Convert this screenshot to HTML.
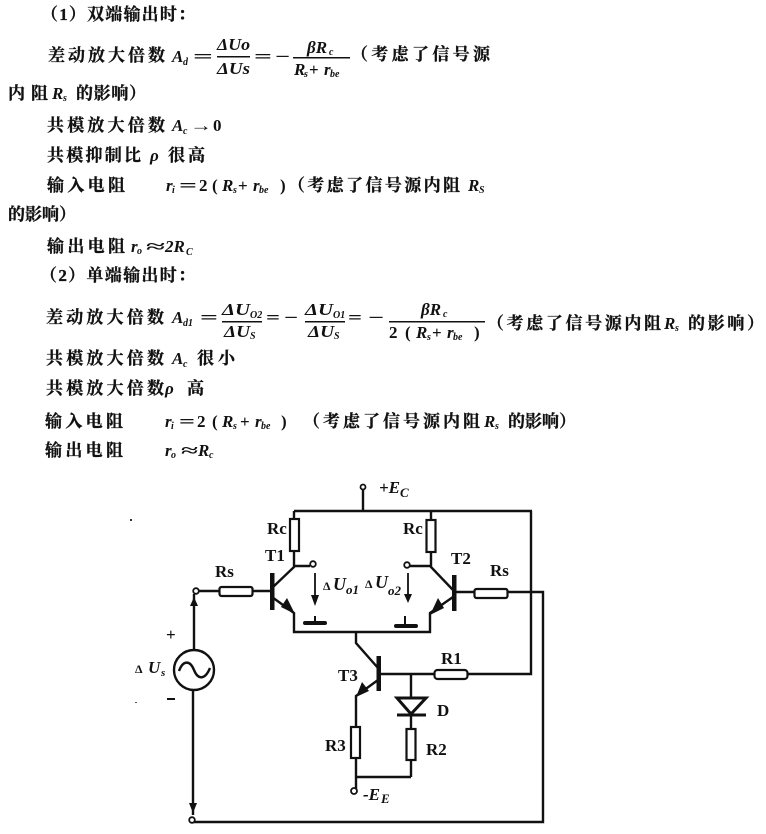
<!DOCTYPE html>
<html><head><meta charset="utf-8"><style>
html,body{margin:0;padding:0;background:#fff}
svg{display:block}
.c{font-family:"Liberation Serif","Noto Serif CJK SC",serif;font-size:17px;font-weight:700;fill:#111;stroke:#111;stroke-width:.3}
.m{font-family:"Liberation Serif",serif;font-style:italic;font-weight:700;font-size:17px;fill:#111}
.n{font-family:"Liberation Serif",serif;font-weight:700;font-size:17px;fill:#111}
.s{font-family:"Liberation Serif",serif;font-style:italic;font-weight:700;font-size:10px;fill:#111}
.l{font-family:"Liberation Serif",serif;font-weight:700;font-size:17px;fill:#111}
.w{fill:none;stroke:#111;stroke-width:2.4}
.r{fill:#fff;stroke:#111;stroke-width:2.2}
</style></head><body>
<svg width="766" height="834" viewBox="0 0 766 834" xmlns="http://www.w3.org/2000/svg">
<rect width="766" height="834" fill="#fff"/>
<!-- text block -->
<text class="c" x="41" y="20" textLength="154" lengthAdjust="spacing">（1）双端输出时：</text>
<text class="c" x="48" y="61" textLength="117" lengthAdjust="spacing">差动放大倍数</text>
<text class="m" x="172" y="62">A</text><text class="s" x="183" y="65">d</text>
<text class="n" x="193" y="62" textLength="20" lengthAdjust="spacingAndGlyphs">=</text>
<text class="m" x="217" y="50" textLength="33" lengthAdjust="spacingAndGlyphs">ΔUo</text>
<rect x="217" y="56" width="33" height="1.500" fill="#111"/>
<text class="m" x="217" y="74" textLength="33" lengthAdjust="spacingAndGlyphs">ΔUs</text>
<text class="n" x="254" y="62" textLength="18" lengthAdjust="spacingAndGlyphs">=</text>
<text class="n" x="275" y="62" textLength="15" lengthAdjust="spacingAndGlyphs">−</text>
<text class="m" x="307" y="53">βR</text><text class="s" x="329" y="55">c</text>
<rect x="293" y="57" width="57" height="1.500" fill="#111"/>
<text class="m" x="294" y="75">R</text><text class="s" x="304" y="77">s</text><text class="n" x="309" y="75">+</text><text class="m" x="324" y="75">r</text><text class="s" x="330" y="77">be</text>
<text class="c" x="351" y="60" textLength="139" lengthAdjust="spacing">（考虑了信号源</text>

<text class="c" x="8" y="99" textLength="40" lengthAdjust="spacing">内阻</text>
<text class="m" x="52" y="99">R</text><text class="s" x="63" y="101">s</text>
<text class="c" x="76" y="99" textLength="70" lengthAdjust="spacing">的影响）</text>

<text class="c" x="47" y="131" textLength="118" lengthAdjust="spacing">共模放大倍数</text>
<text class="m" x="172" y="131">A</text><text class="s" x="183" y="134">c</text>
<text class="n" x="190" y="131" textLength="22" lengthAdjust="spacingAndGlyphs">→</text><text class="n" x="213" y="131">0</text>

<text class="c" x="47" y="161" textLength="94" lengthAdjust="spacing">共模抑制比</text>
<text class="m" x="150" y="161">ρ</text>
<text class="c" x="168" y="161" textLength="37" lengthAdjust="spacing">很高</text>

<text class="c" x="47" y="191" textLength="78" lengthAdjust="spacing">输入电阻</text>
<text class="m" x="166" y="191">r</text><text class="s" x="172" y="193">i</text>
<text class="n" x="179" y="191" textLength="18" lengthAdjust="spacingAndGlyphs">=</text><text class="n" x="199" y="191">2</text><text class="n" x="212" y="191">(</text>
<text class="m" x="222" y="191">R</text><text class="s" x="233" y="193">s</text><text class="n" x="238" y="191">+</text>
<text class="m" x="253" y="191">r</text><text class="s" x="259" y="193">be</text><text class="n" x="280" y="191">)</text>
<text class="c" x="288" y="191" textLength="172" lengthAdjust="spacing">（考虑了信号源内阻</text>
<text class="m" x="468" y="191">R</text><text class="s" x="479" y="193">S</text>

<text class="c" x="8" y="220" textLength="68" lengthAdjust="spacing">的影响）</text>

<text class="c" x="47" y="252" textLength="78" lengthAdjust="spacing">输出电阻</text>
<text class="m" x="131" y="252">r</text><text class="s" x="137" y="254">o</text>
<text class="n" x="146" y="252" textLength="19" lengthAdjust="spacingAndGlyphs">≈</text>
<text class="m" x="165" y="252">2R</text><text class="s" x="186" y="255">C</text>

<text class="c" x="40" y="281" textLength="155" lengthAdjust="spacing">（2）单端输出时：</text>

<text class="c" x="46" y="323" textLength="118" lengthAdjust="spacing">差动放大倍数</text>
<text class="m" x="172" y="323">A</text><text class="s" x="183" y="326">d1</text>
<text class="n" x="200" y="323" textLength="18" lengthAdjust="spacingAndGlyphs">=</text>
<text class="m" x="222" y="315" textLength="28" lengthAdjust="spacingAndGlyphs">ΔU</text><text class="s" x="250" y="318">O2</text>
<rect x="222" y="321" width="40" height="1.500" fill="#111"/>
<text class="m" x="224" y="337" textLength="26" lengthAdjust="spacingAndGlyphs">ΔU</text><text class="s" x="250" y="339">S</text>
<text class="n" x="266" y="323" textLength="14" lengthAdjust="spacingAndGlyphs">=</text>
<text class="n" x="284" y="323" textLength="14" lengthAdjust="spacingAndGlyphs">−</text>
<text class="m" x="305" y="315" textLength="28" lengthAdjust="spacingAndGlyphs">ΔU</text><text class="s" x="333" y="318">O1</text>
<rect x="305" y="321" width="40" height="1.500" fill="#111"/>
<text class="m" x="308" y="337" textLength="26" lengthAdjust="spacingAndGlyphs">ΔU</text><text class="s" x="334" y="339">S</text>
<text class="n" x="348" y="323" textLength="14" lengthAdjust="spacingAndGlyphs">=</text>
<text class="n" x="368" y="323" textLength="16" lengthAdjust="spacingAndGlyphs">−</text>
<text class="m" x="421" y="315">βR</text><text class="s" x="443" y="317">c</text>
<rect x="389" y="321" width="96" height="1.500" fill="#111"/>
<text class="n" x="389" y="338">2</text><text class="n" x="405" y="338">(</text>
<text class="m" x="416" y="338">R</text><text class="s" x="427" y="340">s</text><text class="n" x="432" y="338">+</text>
<text class="m" x="447" y="338">r</text><text class="s" x="453" y="340">be</text><text class="n" x="474" y="338">)</text>
<text class="c" x="487" y="329" textLength="174" lengthAdjust="spacing">（考虑了信号源内阻</text>
<text class="m" x="664" y="329">R</text><text class="s" x="675" y="331">s</text>
<text class="c" x="688" y="329" textLength="76" lengthAdjust="spacing">的影响）</text>

<text class="c" x="46" y="364" textLength="118" lengthAdjust="spacing">共模放大倍数</text>
<text class="m" x="172" y="364">A</text><text class="s" x="183" y="367">c</text>
<text class="c" x="197" y="364" textLength="38" lengthAdjust="spacing">很小</text>

<text class="c" x="46" y="394" textLength="118" lengthAdjust="spacing">共模放大倍数</text>
<text class="m" x="165" y="394">ρ</text>
<text class="c" x="187" y="394" textLength="18" lengthAdjust="spacing">高</text>

<text class="c" x="45" y="427" textLength="78" lengthAdjust="spacing">输入电阻</text>
<text class="m" x="165" y="427">r</text><text class="s" x="171" y="429">i</text>
<text class="n" x="179" y="427" textLength="16" lengthAdjust="spacingAndGlyphs">=</text><text class="n" x="197" y="427">2</text><text class="n" x="212" y="427">(</text>
<text class="m" x="222" y="427">R</text><text class="s" x="233" y="429">s</text><text class="n" x="240" y="427">+</text>
<text class="m" x="255" y="427">r</text><text class="s" x="261" y="429">be</text><text class="n" x="281" y="427">)</text>
<text class="c" x="303" y="427" textLength="177" lengthAdjust="spacing">（考虑了信号源内阻</text>
<text class="m" x="484" y="427">R</text><text class="s" x="495" y="429">s</text>
<text class="c" x="508" y="427" textLength="68" lengthAdjust="spacing">的影响）</text>

<text class="c" x="45" y="456" textLength="78" lengthAdjust="spacing">输出电阻</text>
<text class="m" x="165" y="456">r</text><text class="s" x="171" y="458">o</text>
<text class="n" x="181" y="456" textLength="17" lengthAdjust="spacingAndGlyphs">≈</text>
<text class="m" x="198" y="456">R</text><text class="s" x="209" y="458">c</text>

<!-- circuit wiring -->
<path class="w" d="M363 490V511M294 511H532M294 511V520M294 551V567L272 588M294 566H310"/>
<path class="w" d="M431 511V520M431 552V567L453 590M431 566H410"/>
<path class="w" d="M272 597L294 613V632H430V613L453 597"/>
<path class="w" d="M196 591H272M453 592H543V822H192"/>
<path class="w" d="M531 511V674H378"/>
<path class="w" d="M356 632V643L378 668M378 680L356 696V790"/>
<path class="w" d="M355 777H411M411 674V777"/>
<path class="w" d="M194 594V650M193 690V815"/>
<rect x="270" y="573" width="4.500" height="37" fill="#111"/>
<rect x="452" y="575" width="4.500" height="36" fill="#111"/>
<rect x="376.500" y="656" width="4.500" height="35" fill="#111"/>
<rect class="r" x="290" y="519" width="9" height="32"/>
<rect class="r" x="426.500" y="520" width="9" height="32"/>
<rect class="r" x="219.500" y="587" width="33" height="9" rx="2"/>
<rect class="r" x="474.500" y="589" width="33" height="9" rx="2"/>
<rect class="r" x="434.500" y="670" width="33" height="9" rx="3"/>
<rect class="r" x="351" y="727" width="9" height="31"/>
<rect class="r" x="406.500" y="729" width="9" height="31"/>
<circle cx="194" cy="670" r="20" fill="#fff" stroke="#111" stroke-width="2.400"/>
<path class="w" d="M179 671C183 660 190 660 194 670C198 680 205 680 210 668"/>
<!-- arrowheads -->
<path d="M295 614L281 607L287 598Z" fill="#111"/>
<path d="M430 615L444 608L438 598Z" fill="#111"/>
<path d="M356 697L369 691L362 682Z" fill="#111"/>
<path d="M194 597L190 606H198Z" fill="#111"/>
<path d="M193 813L189 803H197Z" fill="#111"/>
<!-- diode -->
<path d="M397 698H426L411 714Z" fill="#fff" stroke="#111" stroke-width="3"/>
<path d="M397 715H426" fill="none" stroke="#111" stroke-width="3"/>
<!-- terminals -->
<circle cx="363" cy="487" r="2.500" fill="#fff" stroke="#111" stroke-width="1.800"/>
<circle cx="313" cy="564" r="2.800" fill="#fff" stroke="#111" stroke-width="1.800"/>
<circle cx="407" cy="565" r="2.800" fill="#fff" stroke="#111" stroke-width="1.800"/>
<circle cx="196" cy="591" r="2.800" fill="#fff" stroke="#111" stroke-width="1.800"/>
<circle cx="354" cy="791" r="3" fill="#fff" stroke="#111" stroke-width="1.800"/>
<circle cx="192" cy="820" r="2.800" fill="#fff" stroke="#111" stroke-width="1.800"/>
<!-- output arrows & grounds -->
<path d="M315 573V600M408 573V598" fill="none" stroke="#111" stroke-width="1.800"/>
<path d="M315 606L311 595H319ZM408 603L404 594H412Z" fill="#111"/>
<path d="M305 623H325M396 626H416" fill="none" stroke="#111" stroke-width="4" stroke-linecap="round"/>
<path d="M315 616V623M405 616V626" fill="none" stroke="#111" stroke-width="2"/>
<!-- stray specks -->
<rect x="130" y="519" width="2" height="2" fill="#333"/>
<rect x="135" y="702" width="2" height="1" fill="#555"/>
<!-- circuit labels -->
<text class="m" x="379" y="493">+E</text><text class="s" x="400" y="497" style="font-size:13px">C</text>
<text class="l" x="267" y="534">Rc</text>
<text class="l" x="403" y="534">Rc</text>
<text class="l" x="265" y="561">T1</text>
<text class="l" x="451" y="564">T2</text>
<text class="l" x="215" y="577">Rs</text>
<text class="l" x="490" y="576">Rs</text>
<text class="l" x="166" y="640">+</text>
<text class="l" x="135" y="673" style="font-size:12px">Δ</text>
<text class="m" x="148" y="673">U</text><text class="s" x="161" y="676" style="font-size:11px">s</text>
<rect x="167" y="698" width="8" height="2" fill="#111"/>
<text class="l" x="338" y="681">T3</text>
<text class="l" x="441" y="664">R1</text>
<text class="l" x="437" y="716">D</text>
<text class="l" x="325" y="751">R3</text>
<text class="l" x="426" y="755">R2</text>
<text class="l" x="323" y="590" style="font-size:12px">Δ</text>
<text class="m" x="333" y="590" style="font-size:18px">U</text><text class="s" x="346" y="594" style="font-size:13px">o1</text>
<text class="l" x="365" y="588" style="font-size:12px">Δ</text>
<text class="m" x="375" y="588" style="font-size:18px">U</text><text class="s" x="388" y="595" style="font-size:13px">o2</text>
<text class="m" x="363" y="800">-E</text><text class="s" x="381" y="803" style="font-size:13px">E</text>
</svg>
</body></html>
